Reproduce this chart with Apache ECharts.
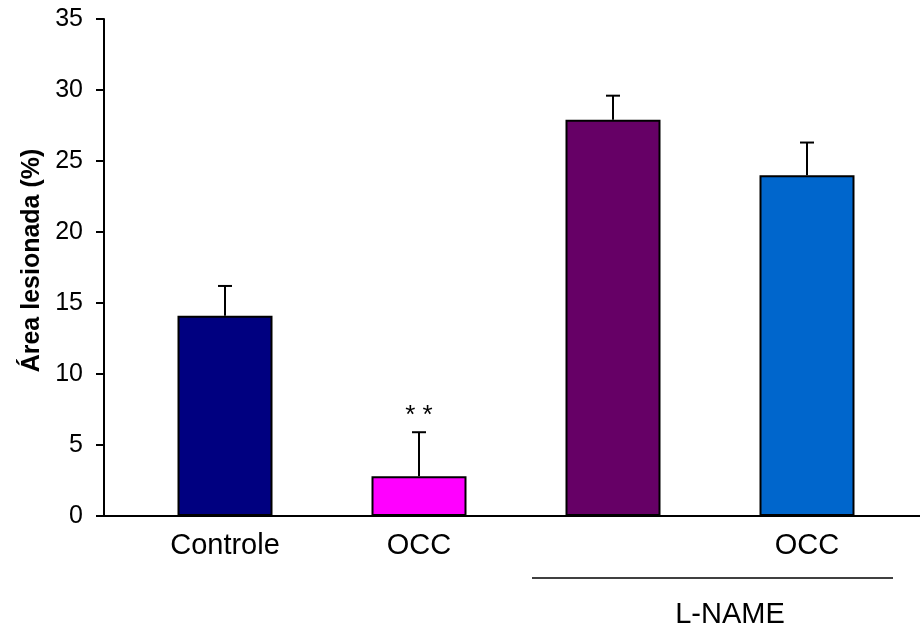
<!DOCTYPE html>
<html>
<head>
<meta charset="utf-8">
<script src="https://cdn.jsdelivr.net/npm/echarts@6/dist/echarts.min.js"></script>
<style>html,body{margin:0;padding:0;background:#fff}#c{width:920px;height:627px}</style>
</head>
<body>
<div id="c"></div>
<script>
const categories = ['Controle', 'OCC', '', 'OCC'];
const means = [14.1, 2.8, 27.9, 24.0];
const errors = [2.1, 3.1, 1.7, 2.3];
const marks = ['', '* *', '', ''];
const barColors = ['#000080', '#FF00FF', '#660066', '#0066CC'];
const yTicks = { min: 0, max: 35, interval: 5 };
const groupLabel = 'L-NAME';
const yTitle = 'Área lesionada (%)';

const font = 'Arial, "Liberation Sans", sans-serif';
const chart = echarts.init(document.getElementById('c'));
chart.setOption({
  animation: false,
  backgroundColor: '#fff',
  grid: [
    { left: 104, right: 0, top: 19, bottom: 111 },
    { left: 128, right: 16, top: 19, bottom: 111 }
  ],
  xAxis: [
    { gridIndex: 0, type: 'value', min: 0, max: 1, axisLine: { show: true, lineStyle: { color: '#000', width: 2 } },
      axisTick: { show: false }, axisLabel: { show: false }, splitLine: { show: false } },
    { gridIndex: 1, type: 'category', data: categories, boundaryGap: true,
      axisLine: { show: false }, axisTick: { show: false },
      axisLabel: { fontFamily: font, fontSize: 29, color: '#000', margin: 15, interval: 0 } }
  ],
  yAxis: [
    { gridIndex: 0, type: 'value', min: yTicks.min, max: yTicks.max, interval: yTicks.interval, show: false },
    { gridIndex: 1, type: 'value', min: yTicks.min, max: yTicks.max, interval: yTicks.interval, offset: 24,
      name: yTitle, nameLocation: 'middle', nameGap: 58, nameRotate: 90,
      nameTextStyle: { fontFamily: font, fontSize: 25, fontWeight: 'bold', color: '#000', padding: [0, 0, 0, 14] },
      axisLine: { show: true, lineStyle: { color: '#000', width: 2 } },
      axisTick: { show: true, length: 8, lineStyle: { color: '#000', width: 2 } },
      axisLabel: { fontFamily: font, fontSize: 25, color: '#000', margin: 21 },
      splitLine: { show: false } }
  ],
  series: [
    { type: 'bar', xAxisIndex: 1, yAxisIndex: 1, barWidth: 95,
      data: means.map((v, i) => ({ value: v, itemStyle: { color: barColors[i], borderColor: '#000', borderWidth: 2 } })) },
    { type: 'custom', xAxisIndex: 1, yAxisIndex: 1, z: 5,
      data: means.map((v, i) => [i, v, errors[i]]),
      renderItem: function (params, api) {
        const i = api.value(0), v = api.value(1), e = api.value(2);
        const base = api.coord([i, v]);
        const top = api.coord([i, v + e]);
        const children = [
          { type: 'line', shape: { x1: base[0], y1: base[1], x2: top[0], y2: top[1] }, style: { stroke: '#000', lineWidth: 2 } },
          { type: 'line', shape: { x1: top[0] - 7, y1: top[1], x2: top[0] + 7, y2: top[1] }, style: { stroke: '#000', lineWidth: 2 } }
        ];
        const m = marks[params.dataIndex];
        if (m) {
          children.push({ type: 'text', style: { text: m, x: top[0], y: top[1] - 16, align: 'center', verticalAlign: 'middle',
            font: '26px ' + font, fill: '#000' } });
        }
        return { type: 'group', children: children };
      } }
  ],
  graphic: [
    { type: 'line', shape: { x1: 532, y1: 578, x2: 893, y2: 578 }, style: { stroke: '#000', lineWidth: 1.5 } },
    { type: 'text', style: { text: groupLabel, x: 730, y: 615, align: 'center', verticalAlign: 'middle', font: '29px ' + font, fill: '#000' } }
  ]
});
</script>
</body>
</html>
